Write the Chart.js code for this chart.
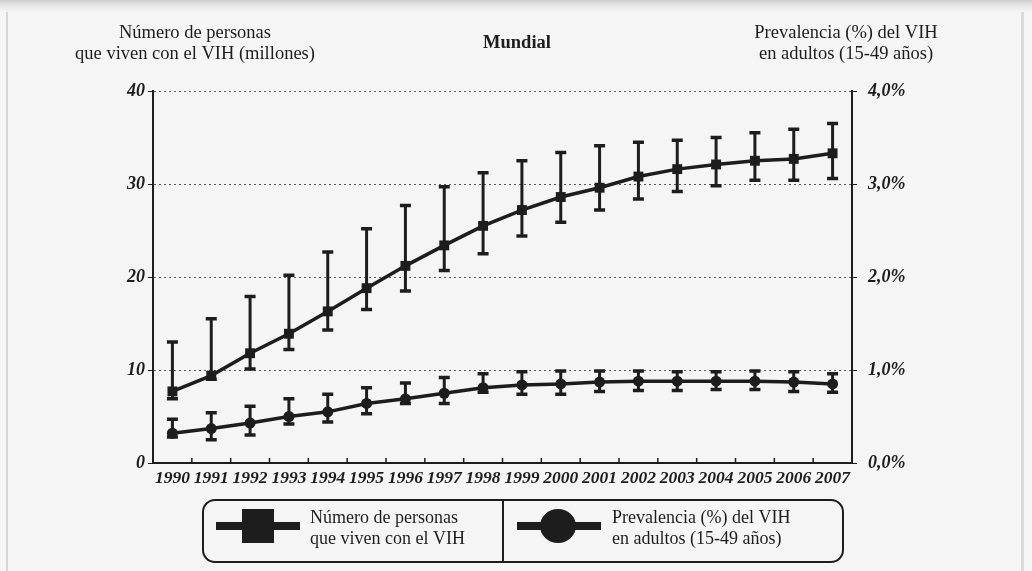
<!DOCTYPE html>
<html lang="es">
<head>
<meta charset="utf-8">
<title>Mundial – VIH</title>
<script src="https://cdn.jsdelivr.net/npm/chart.js@4.4.1/dist/chart.umd.min.js"></script>
<style>
  html, body { margin: 0; padding: 0; background: #f5f5f5; }
  #wrap { width: 1032px; height: 571px; position: relative; }
  canvas { display: block; }
</style>
</head>
<body>
<div id="wrap"><canvas id="c" width="1032" height="571"></canvas></div>
<script>
// Años
const years = ['1990','1991','1992','1993','1994','1995','1996','1997','1998',
               '1999','2000','2001','2002','2003','2004','2005','2006','2007'];

// Número de personas que viven con el VIH (millones) y su intervalo
const personas    = [7.7, 9.4, 11.8, 13.9, 16.3, 18.8, 21.2, 23.4, 25.5, 27.2, 28.6, 29.6, 30.8, 31.6, 32.1, 32.5, 32.7, 33.3];
const personasMin = [6.9, 9.0, 10.1, 12.2, 14.3, 16.5, 18.5, 20.7, 22.5, 24.4, 25.9, 27.2, 28.4, 29.2, 29.8, 30.4, 30.4, 30.6];
const personasMax = [13.0, 15.5, 17.9, 20.2, 22.7, 25.2, 27.7, 29.7, 31.2, 32.5, 33.4, 34.1, 34.5, 34.7, 35.0, 35.5, 35.9, 36.5];

// Prevalencia (%) del VIH en adultos (15-49 años) y su intervalo
const prevalencia    = [0.32, 0.37, 0.43, 0.50, 0.55, 0.64, 0.69, 0.75, 0.81, 0.84, 0.85, 0.87, 0.88, 0.88, 0.88, 0.88, 0.87, 0.85];
const prevalenciaMin = [0.28, 0.25, 0.30, 0.42, 0.44, 0.53, 0.64, 0.64, 0.76, 0.74, 0.74, 0.77, 0.78, 0.78, 0.79, 0.79, 0.77, 0.76];
const prevalenciaMax = [0.47, 0.54, 0.61, 0.69, 0.74, 0.81, 0.86, 0.92, 0.96, 0.98, 0.99, 0.99, 0.99, 0.98, 0.98, 0.99, 0.98, 0.96];

// Escalas
const leftMax = 40, leftStep = 10;
const rightMax = 4, rightStep = 1;

// Textos
const titleLeft  = ['Número de personas', 'que viven con el VIH (millones)'];
const titleRight = ['Prevalencia (%) del VIH', 'en adultos (15-49 años)'];
const titleMain  = 'Mundial';
const legendLeft  = ['Número de personas', 'que viven con el VIH'];
const legendRight = ['Prevalencia (%) del VIH', 'en adultos (15-49 años)'];

const SERIF = '"Liberation Serif", "DejaVu Serif", serif';
const INK = '#1d1d1d';

// Fondo de la página
const pageBackground = {
  id: 'pageBackground',
  beforeDraw(chart) {
    const { ctx, width, height } = chart;
    ctx.save();
    ctx.fillStyle = '#f5f5f5';
    ctx.fillRect(0, 0, width, height);
    const g = ctx.createLinearGradient(0, 0, 0, 14);
    g.addColorStop(0, '#cfcfcf');
    g.addColorStop(1, 'rgba(240,240,240,0)');
    ctx.fillStyle = g;
    ctx.fillRect(0, 0, width, 14);
    ctx.fillStyle = '#d6d6d6';
    ctx.fillRect(6, 12, 2, height - 12);
    ctx.fillStyle = '#dadada';
    ctx.fillRect(1021, 12, 3, height - 12);
    ctx.restore();
  }
};

// Marcas del eje horizontal hacia el interior, en los límites de cada año
const innerTicks = {
  id: 'innerTicks',
  afterDraw(chart) {
    const { ctx } = chart;
    const x = chart.scales.x;
    const base = chart.chartArea.bottom;
    const half = (x.getPixelForValue(1) - x.getPixelForValue(0)) / 2;
    ctx.save();
    ctx.strokeStyle = INK;
    ctx.lineWidth = 1.5;
    ctx.beginPath();
    for (let i = 0; i <= years.length; i++) {
      const px = x.getPixelForValue(i) - half;
      ctx.moveTo(px, base + 1);
      ctx.lineTo(px, base - 5);
    }
    ctx.stroke();
    ctx.restore();
  }
};

// Barras de error de ambas series
const errorBars = {
  id: 'errorBars',
  beforeDatasetsDraw(chart) {
    const { ctx } = chart;
    const x = chart.scales.x;
    const sets = [
      { axis: chart.scales.y,  lo: personasMin,    hi: personasMax },
      { axis: chart.scales.y1, lo: prevalenciaMin, hi: prevalenciaMax }
    ];
    ctx.save();
    ctx.strokeStyle = INK;
    ctx.lineCap = 'butt';
    sets.forEach(s => {
      s.lo.forEach((lo, i) => {
        const px = x.getPixelForValue(i);
        const yLo = s.axis.getPixelForValue(lo);
        const yHi = s.axis.getPixelForValue(s.hi[i]);
        ctx.lineWidth = 3;
        ctx.beginPath();
        ctx.moveTo(px, yLo);
        ctx.lineTo(px, yHi);
        ctx.stroke();
        ctx.lineWidth = 3.5;
        ctx.beginPath();
        ctx.moveTo(px - 5.5, yLo); ctx.lineTo(px + 5.5, yLo);
        ctx.moveTo(px - 5.5, yHi); ctx.lineTo(px + 5.5, yHi);
        ctx.stroke();
      });
    });
    ctx.restore();
  }
};

// Títulos y leyenda en recuadro
const annotations = {
  id: 'annotations',
  afterDraw(chart) {
    const { ctx } = chart;
    ctx.save();
    ctx.fillStyle = INK;
    ctx.textBaseline = 'middle';
    ctx.textAlign = 'center';
    ctx.font = '18.5px ' + SERIF;
    ctx.fillText(titleLeft[0], 195, 33);
    ctx.fillText(titleLeft[1], 195, 54);
    ctx.fillText(titleRight[0], 846, 33);
    ctx.fillText(titleRight[1], 846, 54);
    ctx.font = 'bold 18.5px ' + SERIF;
    ctx.fillText(titleMain, 517, 43);

    // Recuadro de la leyenda
    ctx.strokeStyle = INK;
    ctx.lineWidth = 2;
    ctx.beginPath();
    ctx.roundRect(203, 500, 640, 62, 12);
    ctx.stroke();
    ctx.beginPath();
    ctx.moveTo(503, 500);
    ctx.lineTo(503, 562);
    ctx.stroke();

    // Símbolos
    ctx.fillStyle = INK;
    ctx.fillRect(216, 522, 84, 8);
    ctx.fillRect(242, 509, 32, 34);
    ctx.fillRect(517, 522, 84, 8);
    ctx.beginPath();
    ctx.ellipse(558, 526, 18, 17, 0, 0, Math.PI * 2);
    ctx.fill();

    ctx.textAlign = 'left';
    ctx.font = '18px ' + SERIF;
    ctx.fillText(legendLeft[0], 310, 518);
    ctx.fillText(legendLeft[1], 310, 539);
    ctx.fillText(legendRight[0], 612, 518);
    ctx.fillText(legendRight[1], 612, 539);
    ctx.restore();
  }
};

const tickFont = { family: SERIF, size: 18, style: 'italic', weight: 'bold' };
const yearFont = { family: SERIF, size: 17.5, style: 'italic', weight: 'bold' };

new Chart(document.getElementById('c'), {
  type: 'line',
  data: {
    labels: years,
    datasets: [
      {
        label: legendLeft.join(' '),
        data: personas,
        yAxisID: 'y',
        borderColor: INK,
        backgroundColor: INK,
        borderWidth: 3.5,
        pointStyle: 'rect',
        pointRadius: 7,
        pointBorderWidth: 0,
        tension: 0
      },
      {
        label: legendRight.join(' '),
        data: prevalencia,
        yAxisID: 'y1',
        borderColor: INK,
        backgroundColor: INK,
        borderWidth: 3.5,
        pointStyle: 'circle',
        pointRadius: 5.5,
        pointBorderWidth: 0,
        tension: 0
      }
    ]
  },
  options: {
    responsive: false,
    animation: false,
    devicePixelRatio: 1,
    layout: { padding: { top: 91, left: 0, right: 0, bottom: 0 } },
    plugins: {
      legend: { display: false },
      tooltip: { enabled: false },
      title: { display: false }
    },
    scales: {
      x: {
        offset: true,
        afterFit(s) { s.height = 108; },
        border: { display: true, color: INK, width: 2 },
        grid: { offset: true, drawOnChartArea: false, drawTicks: false },
        ticks: { color: INK, font: yearFont, padding: 5, autoSkip: false, maxRotation: 0 }
      },
      y: {
        position: 'left',
        min: 0, max: leftMax,
        afterFit(s) { s.width = 153; },
        // en v4, border.dash define el punteado de la cuadrícula
        border: { display: true, color: INK, width: 2, dash: [2, 3] },
        grid: { color: '#5e5e5e', lineWidth: 1, tickLength: 5, tickColor: INK, tickBorderDash: [] },
        ticks: { stepSize: leftStep, color: INK, font: tickFont, padding: 3 }
      },
      y1: {
        position: 'right',
        min: 0, max: rightMax,
        afterFit(s) { s.width = 180; },
        border: { display: true, color: INK, width: 2 },
        grid: { drawOnChartArea: false, tickLength: 5, color: INK },
        ticks: {
          stepSize: rightStep, color: INK, font: tickFont, padding: 11,
          callback: v => v.toFixed(1).replace('.', ',') + '%'
        }
      }
    }
  },
  plugins: [pageBackground, errorBars, innerTicks, annotations]
});
</script>
</body>
</html>
